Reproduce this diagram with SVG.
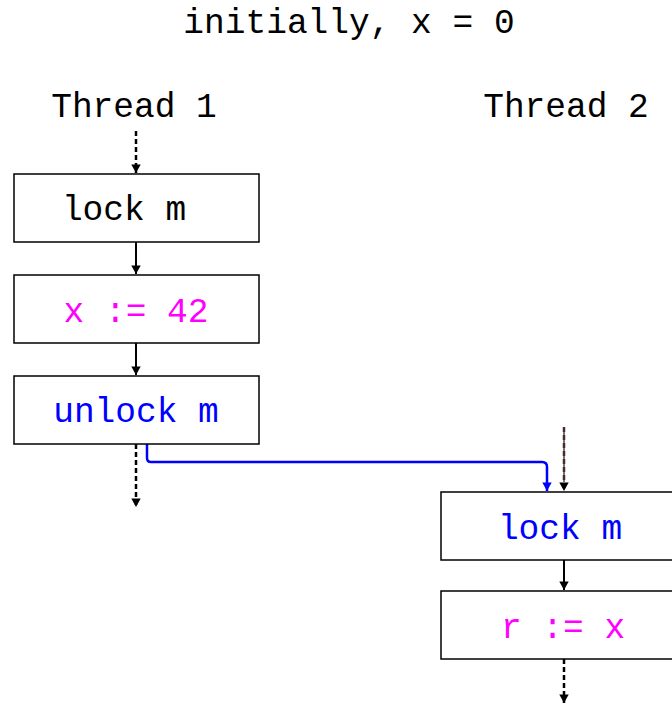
<svg xmlns="http://www.w3.org/2000/svg" width="672" height="704" viewBox="0 0 672 704">
<style>
text{font-family:"Liberation Mono","Courier New",monospace;font-size:34.5px;text-anchor:middle}
.box{fill:#fff;stroke:#000;stroke-width:1.5}
.k{fill:#000}.b{fill:#0000ff}.m{fill:#ff00ff}
.c{fill:none;stroke:#000;stroke-width:2}
.d{stroke-dasharray:5 3;stroke-width:2.5}
</style>
<defs>
<marker id="ah" viewBox="0 0 10 14" refX="10" refY="7" markerWidth="12" markerHeight="12" markerUnits="userSpaceOnUse" orient="auto"><path d="M0,1.5 L10,7 L0,12.5 Z" fill="#000"/></marker>
<marker id="ahb" viewBox="0 0 10 14" refX="10" refY="7" markerWidth="12" markerHeight="12" markerUnits="userSpaceOnUse" orient="auto"><path d="M0,1.5 L10,7 L0,12.5 Z" fill="#0000ff"/></marker>
</defs>
<text x="349" y="33" class="k">initially, x = 0</text>
<text x="134" y="117" class="k">Thread 1</text>
<text x="566" y="117" class="k">Thread 2</text>
<g id="connectors">
<line class="c d" x1="136" y1="131" x2="136" y2="173" marker-end="url(#ah)"/>
<line class="c" x1="136" y1="242" x2="136" y2="274" marker-end="url(#ah)"/>
<line class="c" x1="136" y1="343" x2="136" y2="375" marker-end="url(#ah)"/>
<line class="c d" x1="136" y1="444" x2="136" y2="507" marker-end="url(#ah)"/>
<path d="M147,444 V458 Q147,462 151,462 H542 Q547,462 547,467 V491" fill="none" stroke="#0000ff" stroke-width="2.5" marker-end="url(#ahb)"/>
<line x1="564" y1="427" x2="564" y2="482" stroke="#777" stroke-width="2"/>
<line class="d" x1="564" y1="427" x2="564" y2="491" stroke="#4a2a2a" marker-end="url(#ah)"/>
<line class="c" x1="564" y1="560" x2="564" y2="590" marker-end="url(#ah)"/>
<line class="c d" x1="564" y1="659" x2="564" y2="703" marker-end="url(#ah)"/>
</g>
<g id="t1-lock"><rect class="box" x="14" y="174" width="245" height="68"/><text x="124" y="220" class="k">lock m</text></g>
<g id="t1-write"><rect class="box" x="14" y="275" width="245" height="68"/><text x="136" y="322" class="m">x := 42</text></g>
<g id="t1-unlock"><rect class="box" x="14" y="376" width="245" height="68"/><text x="136" y="422" class="b">unlock m</text></g>
<g id="t2-lock"><rect class="box" x="441" y="492" width="245" height="68"/><text x="560" y="539" class="b">lock m</text></g>
<g id="t2-read"><rect class="box" x="441" y="591" width="245" height="68"/><text x="563" y="638" class="m">r := x</text></g>
</svg>
